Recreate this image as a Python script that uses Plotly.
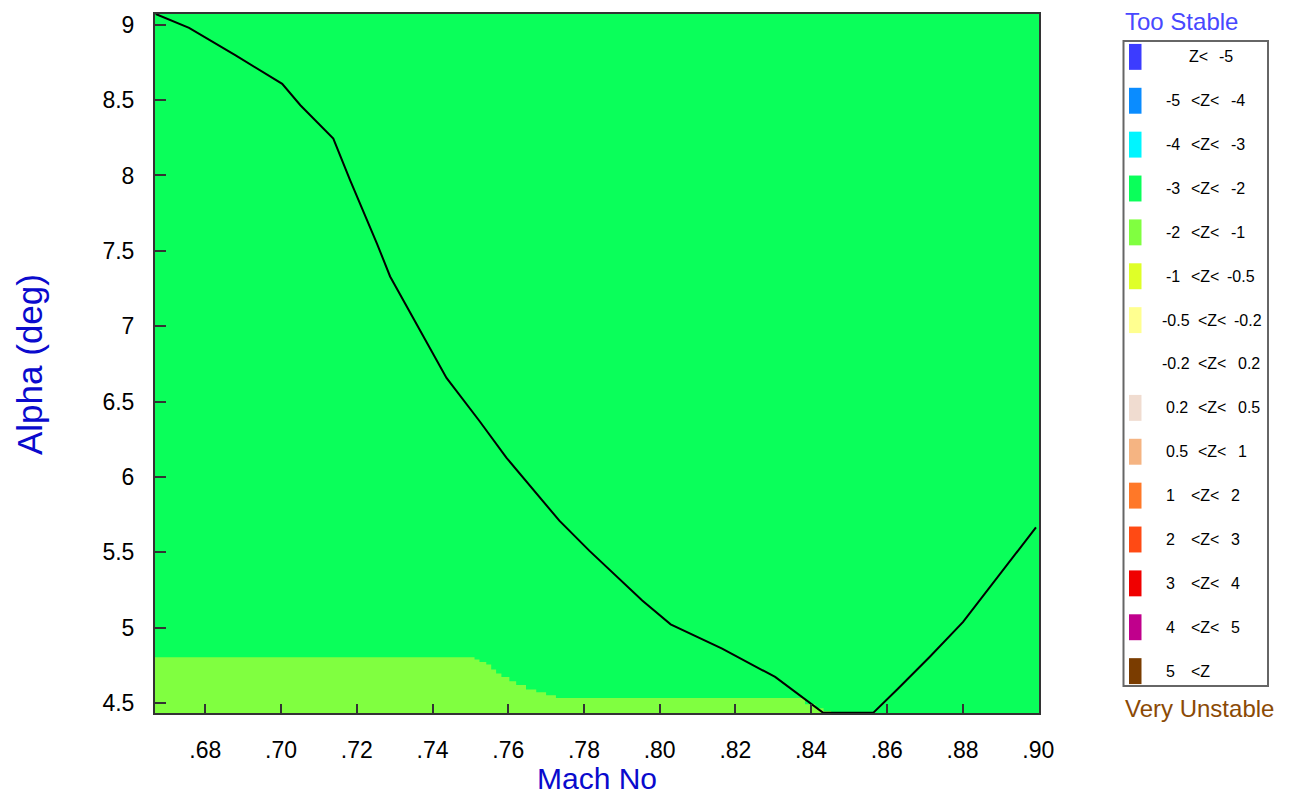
import plotly.graph_objects as go

# ---- data -------------------------------------------------------------
# Neutral-stability boundary curve (Mach, alpha in deg)
curve_mach = [0.6669, 0.6757, 0.6880, 0.7003, 0.7051, 0.7138, 0.7182, 0.7253,
              0.7288, 0.7349, 0.7437, 0.7524, 0.7595, 0.7735, 0.7814, 0.7954,
              0.8029, 0.8165, 0.8305, 0.8432, 0.8564, 0.8630, 0.8713, 0.8801,
              0.8928, 0.8994]
curve_alpha = [9.071, 8.979, 8.796, 8.608, 8.466, 8.245, 7.970, 7.550,
               7.330, 7.054, 6.657, 6.371, 6.128, 5.710, 5.511, 5.181,
               5.022, 4.861, 4.673, 4.435, 4.435, 4.597, 4.806, 5.037,
               5.445, 5.665]

# Upper edge of the -2<Z<-1 region (stepped, grid resolution)
band_mach = [0.6667, 0.7511, 0.7524, 0.7542, 0.7555, 0.7568, 0.7582, 0.7603,
             0.7621, 0.7647, 0.7674, 0.7700, 0.7726, 0.8384, 0.8411, 0.8433,
             0.8453]
band_alpha = [4.804, 4.789, 4.773, 4.756, 4.723, 4.696, 4.673, 4.645,
              4.619, 4.590, 4.572, 4.552, 4.534, 4.492, 4.466, 4.445,
              4.445]

# Z classes: (low text, high text, colour)
class_lo = ["", "-5", "-4", "-3", "-2", "-1", "-0.5", "-0.2", "0.2", "0.5",
            "1", "2", "3", "4", "5"]
class_hi = ["-5", "-4", "-3", "-2", "-1", "-0.5", "-0.2", "0.2", "0.5", "1",
            "2", "3", "4", "5", ""]
class_colors = ["#3C3CFF", "#0A8CFF", "#00F5FF", "#0AFF5A", "#80FF40",
                "#DFFF28", "#FFFF90", "#FFFFFF", "#F0DCD0", "#F5B482",
                "#FF7828", "#FF4A14", "#F00000", "#C0008C", "#7A3C00"]

x_ticks = [0.68, 0.70, 0.72, 0.74, 0.76, 0.78, 0.80, 0.82, 0.84, 0.86, 0.88, 0.90]
x_tick_text = [".68", ".70", ".72", ".74", ".76", ".78", ".80", ".82", ".84",
               ".86", ".88", ".90"]
y_ticks = [4.5, 5, 5.5, 6, 6.5, 7, 7.5, 8, 8.5, 9]
y_tick_text = ["4.5", "5", "5.5", "6", "6.5", "7", "7.5", "8", "8.5", "9"]

# ---- layout geometry ---------------------------------------------------
W, H = 1314, 799
L, R, T, B = 155, 1039, 12, 713
FONT = "Liberation Sans, Arial, sans-serif"


def px(x):
    return (x - L) / (R - L)


def py(y):
    return (B - y) / (B - T)


fig = go.Figure()

# -2 < Z < -1 region
fig.add_trace(go.Scatter(
    x=band_mach, y=band_alpha, mode="lines", line=dict(width=0, shape="hv"),
    fill="tozeroy", fillcolor=class_colors[4], hoverinfo="skip",
    showlegend=False))

# boundary curve
fig.add_trace(go.Scatter(
    x=curve_mach, y=curve_alpha, mode="lines",
    line=dict(color="black", width=2), showlegend=False))

shapes = []
annotations = []

# legend frame
shapes.append(dict(type="rect", xref="paper", yref="paper",
                   x0=px(1123.5), x1=px(1268), y0=py(686), y1=py(39),
                   line=dict(color="#666666", width=2), fillcolor="white",
                   layer="above"))

row0, row_dy = 55, 44
for i, (lo, hi, col) in enumerate(zip(class_lo, class_hi, class_colors)):
    yc = row0 + i * row_dy
    if col.upper() != "#FFFFFF":
        shapes.append(dict(type="rect", xref="paper", yref="paper",
                           x0=px(1129), x1=px(1141.5), y0=py(yc + 13),
                           y1=py(yc - 13), line=dict(width=0), fillcolor=col,
                           layer="above"))
    if lo == "":
        parts = [("Z<", 1187), (hi, 1217)]
    else:
        wide = lo in ("-0.5", "-0.2", "0.2", "0.5")
        lo_x = 1160 if lo.startswith("-0.") else 1164
        mid_x = 1195.5 if wide else 1189
        parts = [(lo, lo_x), ("<Z" if hi == "" else "<Z<", mid_x)]
        if hi != "":
            if hi == "-0.5":
                hi_x = 1225
            elif hi in ("-0.2",):
                hi_x = 1232
            elif hi in ("0.2", "0.5", "1") and wide:
                hi_x = 1235.5
            else:
                hi_x = 1229
            parts.append((hi, hi_x))
    for txt, xx in parts:
        annotations.append(dict(text=txt, x=px(xx), y=py(yc), xref="paper",
                                yref="paper", xanchor="left",
                                yanchor="middle", showarrow=False,
                                font=dict(family=FONT, size=16,
                                          color="black")))

annotations.append(dict(text="Too Stable", x=px(1123), y=py(20),
                        xref="paper", yref="paper", xanchor="left",
                        yanchor="middle", showarrow=False,
                        font=dict(family=FONT, size=24, color="#4848FF")))
annotations.append(dict(text="Very Unstable", x=px(1123), y=py(708),
                        xref="paper", yref="paper", xanchor="left",
                        yanchor="middle", showarrow=False,
                        font=dict(family=FONT, size=24, color="#8B4A05")))

# axis titles
annotations.append(dict(text="Mach No", x=0.5, y=py(797), xref="paper",
                        yref="paper", xanchor="center", yanchor="bottom",
                        showarrow=False,
                        font=dict(family=FONT, size=30, color="#0A0ACD")))
annotations.append(dict(text="Alpha (deg)", x=px(30), y=py(364),
                        xref="paper", yref="paper", xanchor="center",
                        yanchor="middle", textangle=-90, showarrow=False,
                        font=dict(family=FONT, size=35, color="#0A0ACD")))

fig.update_layout(
    width=W, height=H,
    margin=dict(l=L, r=W - R, t=T, b=H - B, pad=0),
    paper_bgcolor="white",
    plot_bgcolor=class_colors[3],
    shapes=shapes,
    annotations=annotations,
    showlegend=False,
    xaxis=dict(range=[0.6667, 0.9002], tickvals=x_ticks, ticktext=x_tick_text,
               ticks="inside", ticklen=9, tickwidth=1.5, tickcolor="#333333",
               showline=True, linecolor="#333333", linewidth=2, mirror=True,
               showgrid=False, zeroline=False, ticklabelstandoff=15,
               tickfont=dict(family=FONT, size=23, color="black")),
    yaxis=dict(range=[4.434, 9.071], tickvals=y_ticks, ticktext=y_tick_text,
               ticks="inside", ticklen=11, tickwidth=1.5, tickcolor="#333333",
               showline=True, linecolor="#333333", linewidth=2, mirror=True,
               showgrid=False, zeroline=False, ticklabelstandoff=14,
               tickfont=dict(family=FONT, size=23, color="black")),
)

fig.write_html("out.html")
